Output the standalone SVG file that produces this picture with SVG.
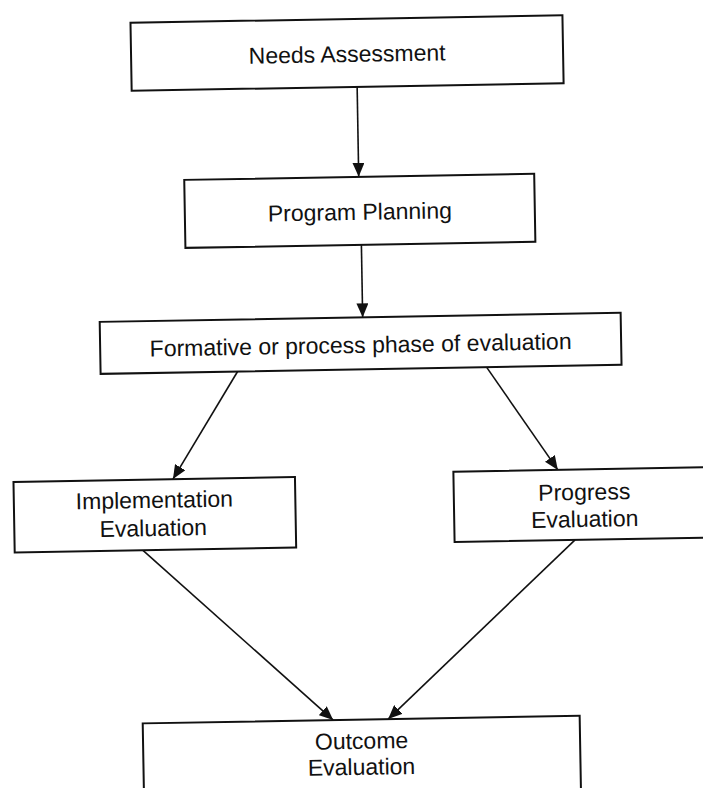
<svg xmlns="http://www.w3.org/2000/svg" width="703" height="788" viewBox="0 0 703 788">
<style>
.box{fill:#fff;stroke:#111;stroke-width:2}
.lbl{font-family:"Liberation Sans",Arial,sans-serif;font-size:23px;fill:#111;text-anchor:middle}
.edge{fill:none;stroke:#111;stroke-width:1.6}
</style>
<defs>
<marker id="ah" viewBox="0 0 14 12" refX="14" refY="6" markerWidth="14" markerHeight="12" markerUnits="userSpaceOnUse" orient="auto">
<path d="M0,0 L14,6 L0,12 z" fill="#111"/>
</marker>
</defs>
<rect width="703" height="788" fill="#fff"/>
<g transform="rotate(-1 351 394)">
<g id="connectors">
<line class="edge" x1="362.5" y1="87" x2="362.5" y2="177" marker-end="url(#ah)"/>
<line class="edge" x1="364" y1="245" x2="364" y2="317.5" marker-end="url(#ah)"/>
<line class="edge" x1="238" y1="369.5" x2="171.5" y2="476" marker-end="url(#ah)"/>
<line class="edge" x1="487" y1="369.5" x2="556.5" y2="473.5" marker-end="url(#ah)"/>
<line class="edge" x1="140" y1="546.5" x2="327.5" y2="719.7" marker-end="url(#ah)"/>
<line class="edge" x1="572.5" y1="543.8" x2="382.5" y2="719.7" marker-end="url(#ah)"/>
</g>
<g id="needs">
<rect class="box" x="137" y="19" width="432" height="68"/>
<text class="lbl" x="353" y="62">Needs Assessment</text>
</g>
<g id="planning">
<rect class="box" x="188" y="177" width="350" height="68"/>
<text class="lbl" x="363" y="220">Program Planning</text>
</g>
<g id="formative">
<rect class="box" x="101" y="317.5" width="521" height="52"/>
<text class="lbl" x="361.5" y="353">Formative or process phase of evaluation</text>
</g>
<g id="implementation">
<rect class="box" x="12" y="476" width="281.5" height="70.5"/>
<text class="lbl" x="152.5" y="504.5">Implementation</text>
<text class="lbl" x="151" y="532.5">Evaluation</text>
</g>
<g id="progress">
<rect class="box" x="452" y="473.5" width="262" height="70.3"/>
<text class="lbl" x="582.5" y="504">Progress</text>
<text class="lbl" x="582.5" y="531">Evaluation</text>
</g>
<g id="outcome">
<rect class="box" x="137" y="719.7" width="437" height="90"/>
<text class="lbl" x="355.5" y="749">Outcome</text>
<text class="lbl" x="355" y="775">Evaluation</text>
</g>
</g>
</svg>
